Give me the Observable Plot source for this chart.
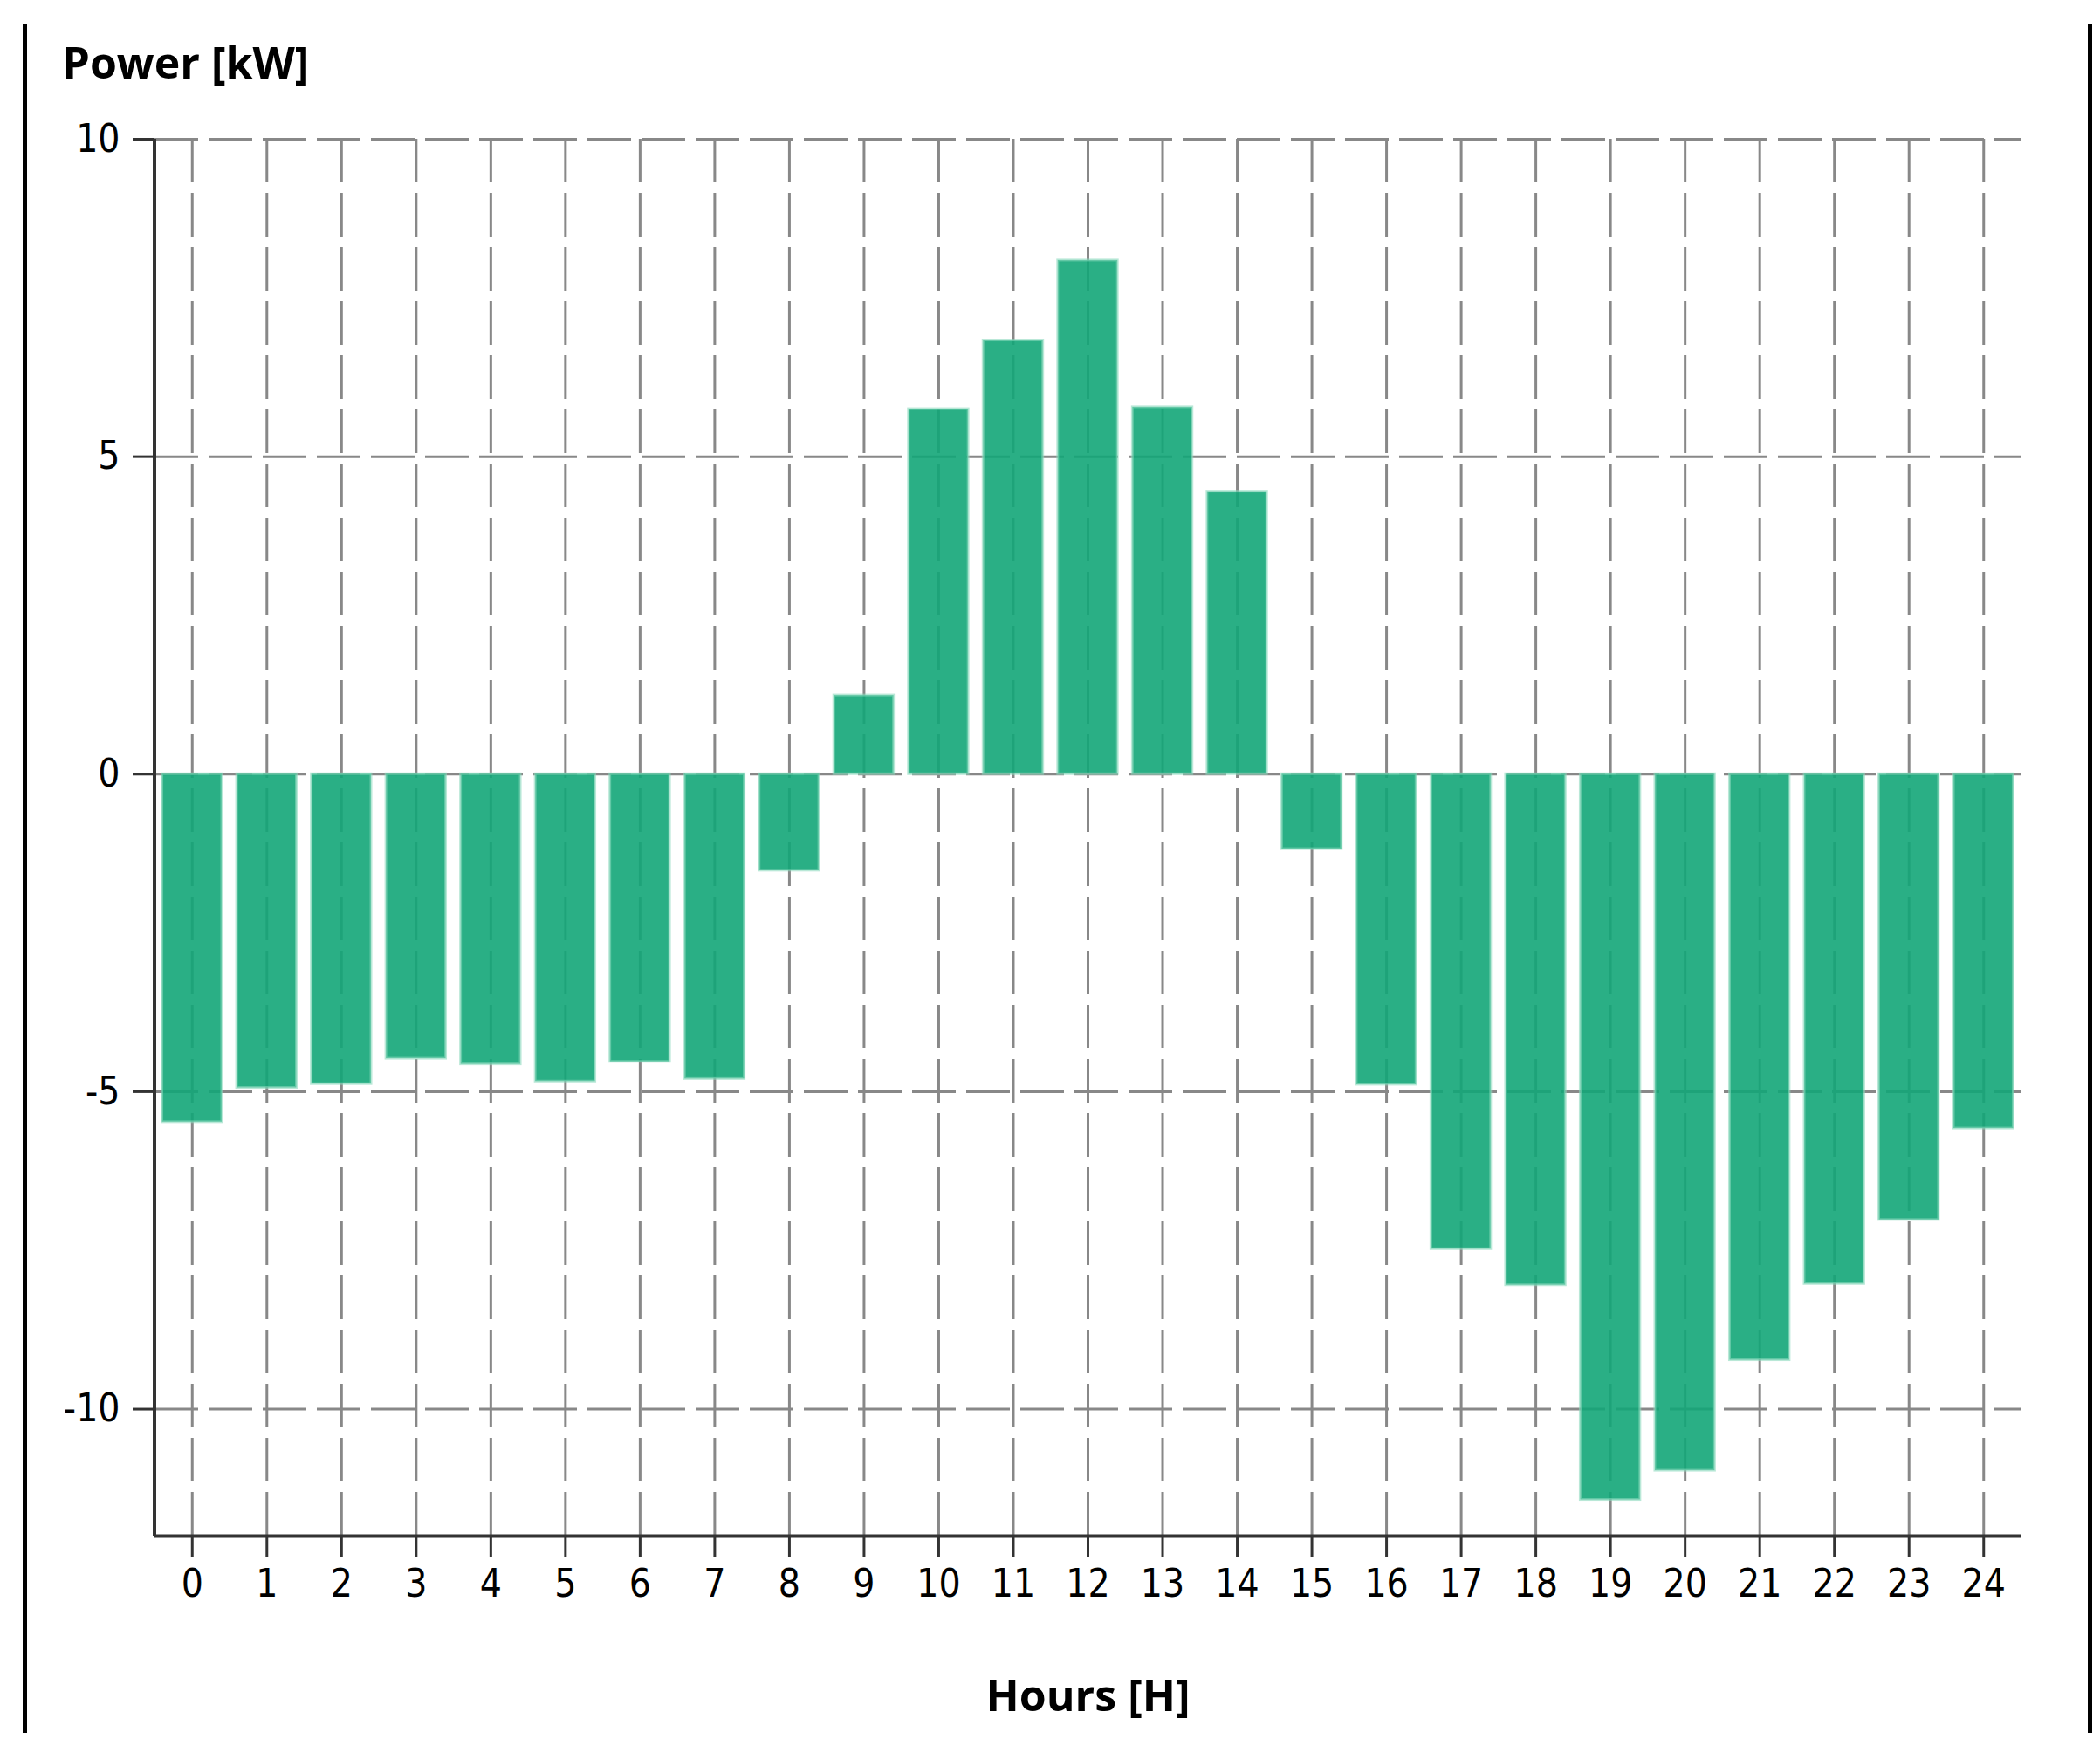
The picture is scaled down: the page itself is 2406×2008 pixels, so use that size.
<!DOCTYPE html>
<html>
<head>
<meta charset="utf-8">
<script src="https://cdn.jsdelivr.net/npm/d3@7"></script>
<script src="https://cdn.jsdelivr.net/npm/@observablehq/plot@0.6"></script>
<style>
  html, body { margin: 0; padding: 0; background: #fff; }
  #wrap { position: relative; width: 2406px; height: 2008px; overflow: hidden; }
  .edge { position: absolute; top: 27px; width: 5px; height: 1958px; background: #000; }
</style>
</head>
<body>
<div id="wrap">
  <div class="edge" style="left:26px"></div>
  <div class="edge" style="left:2392px"></div>
</div>
<script>
const hours = [0,1,2,3,4,5,6,7,8,9,10,11,12,13,14,15,16,17,18,19,20,21,22,23,24];
const power = [-5.48,-4.94,-4.88,-4.48,-4.57,-4.84,-4.53,-4.80,-1.52,1.24,5.75,6.83,8.09,5.78,4.45,-1.18,-4.89,-7.48,-8.05,-11.43,-10.97,-9.23,-8.03,-7.02,-5.58];
const yTicks = [-10,-5,0,5,10];
const yDomain = [-12, 10];
const yLabel = "Power [kW]";
const xLabel = "Hours [H]";

const data = hours.map((h, i) => ({hour: h, power: power[i]}));

const tickFont = "'DejaVu Sans Condensed', 'DejaVu Sans', sans-serif";
const titleFont = "'Open Sans', sans-serif";

// left axis domain line drawn as a render-function mark
const leftLine = (index, scales, values, dims) => {
  const l = d3.create("svg:line")
    .attr("x1", dims.marginLeft).attr("x2", dims.marginLeft)
    .attr("y1", dims.marginTop).attr("y2", dims.height - dims.marginBottom)
    .attr("stroke", "#333").attr("stroke-width", 4);
  return l.node();
};

const chart = Plot.plot({
  width: 2406,
  height: 2008,
  marginLeft: 177,
  marginRight: 91,
  marginTop: 159,
  marginBottom: 249,
  style: {background: "transparent", fontFamily: tickFont, overflow: "visible"},
  x: {type: "band", domain: hours, paddingInner: 0.2, paddingOuter: 0.1, round: false},
  y: {domain: yDomain},
  marks: [
    Plot.gridX({stroke: "#888", strokeOpacity: 1, strokeWidth: 3, strokeDasharray: "50,12"}),
    Plot.gridY(yTicks, {stroke: "#888", strokeOpacity: 1, strokeWidth: 3, strokeDasharray: "50,12"}),
    Plot.barY(data, {x: "hour", y: "power", fill: "#13a678", fillOpacity: 0.9, stroke: "#8ad8bd", strokeOpacity: 0.6, strokeWidth: 3}),
    Plot.ruleY([yDomain[0]], {stroke: "#333", strokeWidth: 4}),
    leftLine,
    Plot.axisY(yTicks, {tickSize: 25, tickPadding: 15, fontSize: 44, stroke: "#333", strokeWidth: 3, color: "#000", label: null, tickFormat: d => String(d)}),
    Plot.axisX({tickSize: 25, tickPadding: 13, fontSize: 44, stroke: "#333", strokeWidth: 3, color: "#000", label: null, tickFormat: d => String(d)}),
    Plot.text([yLabel], {frameAnchor: "top-left", textAnchor: "start", lineAnchor: "bottom", dx: -106, dy: -70, fontSize: 50, fontWeight: "bold", fontFamily: titleFont, fill: "#000"}),
    Plot.text([xLabel], {frameAnchor: "bottom", textAnchor: "middle", lineAnchor: "bottom", dx: 0, dy: 200, fontSize: 50, fontWeight: "bold", fontFamily: titleFont, fill: "#000"})
  ]
});
chart.style.position = "absolute";
chart.style.left = "0px";
chart.style.top = "0px";
document.getElementById("wrap").appendChild(chart);
</script>
</body>
</html>
